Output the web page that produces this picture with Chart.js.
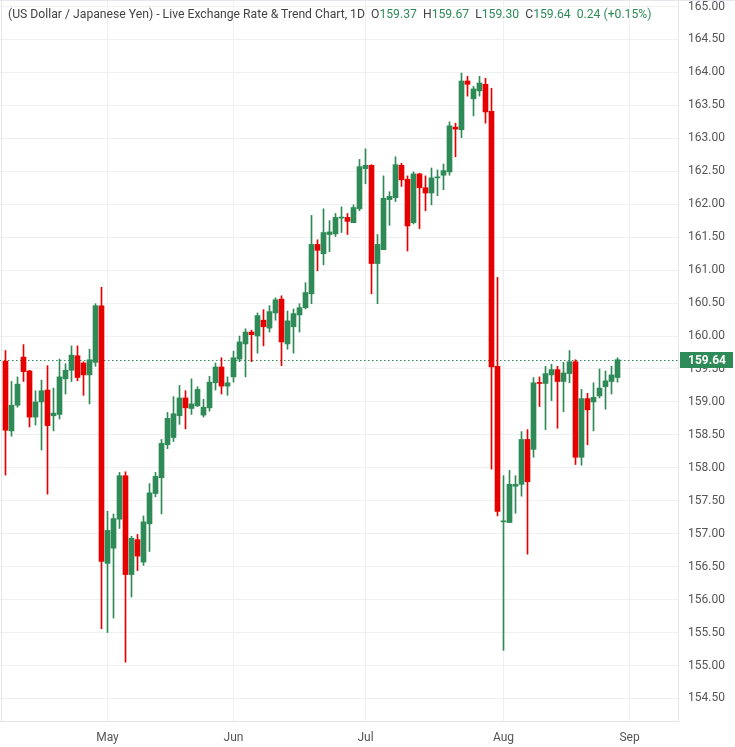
<!DOCTYPE html>
<html>
<head>
<meta charset="utf-8">
<script src="https://cdn.jsdelivr.net/npm/chart.js@4"></script>
<style>
html,body{margin:0;padding:0;background:#fff;}
#wrap{position:relative;width:735px;height:747px;}
#hdr{position:absolute;left:8px;top:7px;font-family:Roboto,"Open Sans",sans-serif;font-size:12.2px;color:#444;white-space:pre;}
#hdr .g{color:#2e8b57;}
</style>
</head>
<body>
<div id="wrap">
<canvas id="c" width="735" height="747"></canvas>
<div id="hdr">(US Dollar / Japanese Yen) - Live Exchange Rate &amp; Trend Chart, 1D  O<span class="g">159.37</span>  H<span class="g">159.67</span>  L<span class="g">159.30</span>  C<span class="g">159.64</span>  <span class="g">0.24 (+0.15%)</span></div>
</div>
<script>
const opens = [159.62,158.56,158.95,159.68,159.47,158.77,159.00,159.18,158.79,158.81,159.35,159.48,159.70,159.59,159.41,159.60,160.46,156.55,156.78,157.22,157.88,156.38,156.91,156.57,157.15,157.61,157.85,158.35,158.46,158.79,159.06,158.90,158.94,158.80,158.91,159.29,159.53,159.24,159.38,159.65,159.88,160.06,160.00,160.24,160.12,160.35,160.56,159.88,160.14,160.32,160.43,160.64,161.39,161.25,161.54,161.55,161.79,161.80,161.72,161.93,162.54,162.59,161.10,161.31,162.07,162.10,162.59,162.38,161.72,162.46,162.25,162.17,162.40,162.44,162.49,163.17,163.13,163.87,163.60,163.72,163.82,163.41,159.54,157.18,157.17,157.72,157.75,158.43,158.28,159.29,159.28,159.41,159.49,159.31,159.43,159.61,158.16,159.05,159.00,159.09,159.23,159.31,159.37];
const highs = [159.78,159.31,159.38,159.87,159.48,159.17,159.33,159.55,159.21,159.65,159.58,159.85,159.85,159.61,159.80,160.49,160.74,157.34,157.30,157.93,157.94,156.96,156.99,157.27,157.76,157.93,158.43,158.84,159.08,159.25,159.17,159.35,159.23,159.04,159.39,159.59,159.67,159.38,159.77,160.00,160.11,160.09,160.35,160.40,160.46,160.58,160.61,160.38,160.41,160.49,160.81,161.83,161.46,161.93,161.75,161.86,161.96,161.86,161.99,162.68,162.84,162.60,161.54,162.43,162.19,162.72,162.62,162.43,162.49,162.47,162.43,162.55,162.52,162.61,163.25,163.23,163.99,163.94,163.79,163.94,163.91,163.76,160.89,157.88,157.96,157.88,158.55,158.58,159.37,159.38,159.54,159.57,159.54,159.60,159.78,159.64,159.19,159.13,159.29,159.50,159.47,159.54,159.67];
const lows = [157.89,158.48,158.92,159.31,158.62,158.65,158.27,157.60,158.56,158.74,159.12,159.31,159.32,159.10,158.97,159.54,155.56,155.50,155.72,157.08,155.05,156.04,156.44,156.52,156.73,157.56,157.30,158.29,158.40,158.66,158.59,158.81,158.93,158.77,158.86,159.18,159.12,159.10,159.30,159.61,159.38,159.61,159.74,159.85,160.06,160.24,159.55,159.80,159.74,160.06,160.41,160.49,160.99,161.08,161.28,161.51,161.57,161.54,161.72,161.90,162.31,160.64,160.49,161.31,161.68,162.04,162.27,161.29,161.70,161.63,161.90,161.99,162.13,162.22,162.44,162.72,163.01,163.64,163.34,163.64,163.23,157.98,157.27,155.23,157.17,157.31,157.57,156.69,158.16,158.93,158.58,159.02,158.60,158.85,159.29,158.05,158.04,158.35,158.56,159.06,158.89,159.12,159.30];
const closes = [158.57,158.95,159.27,159.46,158.77,159.00,159.17,158.64,158.83,159.38,159.48,159.71,159.37,159.41,159.64,160.46,156.58,157.05,157.23,157.88,156.38,156.93,156.66,157.18,157.62,157.87,158.37,158.75,158.82,159.06,158.91,158.97,159.19,158.92,159.30,159.53,159.24,159.29,159.67,159.91,160.06,160.02,160.31,160.14,160.37,160.55,159.91,160.23,160.34,160.43,160.66,161.39,161.30,161.57,161.58,161.80,161.80,161.74,161.95,162.57,162.59,161.10,161.39,162.09,162.12,162.60,162.37,161.67,162.46,162.25,162.17,162.40,162.41,162.51,163.19,163.14,163.87,163.82,163.75,163.84,163.40,159.53,157.34,157.19,157.75,157.75,158.43,157.79,159.29,159.28,159.43,159.49,159.31,159.44,159.61,158.16,159.05,158.88,159.07,159.21,159.32,159.41,159.64];
const monthLabels = ["May","Jun","Jul","Aug","Sep"];
const monthIndex = [17,38,60,83,104];
const yTickValues = [154.5,155,155.5,156,156.5,157,157.5,158,158.5,159,159.5,160,160.5,161,161.5,162,162.5,163,163.5,164,164.5,165];
const lastPrice = 159.64;

const GREEN = '#2e8b57', RED = '#e60000';
const colors = opens.map((o,i)=> closes[i] >= o ? GREEN : RED);
const wickData = opens.map((o,i)=>({x:i, y:[lows[i], highs[i]]}));
const bodyData = opens.map((o,i)=>({x:i, y:[o, closes[i]]}));

const overlay = {
  id:'overlay',
  beforeDatasetsDraw(chart){
    const {ctx, chartArea, scales:{y}} = chart;
    const py = Math.round(y.getPixelForValue(lastPrice)) + 0.5;
    ctx.save();
    ctx.strokeStyle = GREEN; ctx.lineWidth = 1; ctx.setLineDash([1.5,2.5]);
    ctx.beginPath(); ctx.moveTo(chartArea.left, py); ctx.lineTo(chartArea.right, py); ctx.stroke();
    ctx.restore();
  },
  afterDraw(chart){
    const {ctx, chartArea, scales:{y}} = chart;
    const py = y.getPixelForValue(lastPrice);
    ctx.save();
    ctx.fillStyle = GREEN;
    ctx.fillRect(chartArea.right + 2, Math.round(py) - 8, 53, 16);
    ctx.fillStyle = '#fff';
    ctx.font = 'bold 12px Roboto, sans-serif';
    ctx.textBaseline = 'middle'; ctx.textAlign = 'left';
    ctx.fillText(lastPrice.toFixed(2), chartArea.right + 10, Math.round(py) + 0.5);
    ctx.strokeStyle = '#e6e6ec'; ctx.lineWidth = 1; ctx.setLineDash([]);
    ctx.beginPath(); ctx.moveTo(0, 0.5); ctx.lineTo(735, 0.5); ctx.moveTo(1.5, 0); ctx.lineTo(1.5, chartArea.bottom); ctx.stroke();
    ctx.restore();
  }
};

new Chart(document.getElementById('c'), {
  type:'bar',
  data:{
    datasets:[
      {data:wickData, backgroundColor:colors, barThickness:1, grouped:false, order:2},
      {data:bodyData, backgroundColor:colors, barThickness:5, grouped:false, minBarLength:1, order:1}
    ]
  },
  options:{
    responsive:false, animation:false, devicePixelRatio:1,
    layout:{padding:0},
    plugins:{legend:{display:false}, tooltip:{enabled:false}},
    scales:{
      x:{
        type:'linear', min:-0.9167, max:112.0833, offset:false,
        afterBuildTicks(s){ s.ticks = monthIndex.map(v=>({value:v})); },
        afterFit(s){ s.height = 26; s.paddingLeft = 0; s.paddingRight = 0; },
        grid:{color:'#f0f0f3', drawTicks:false, offset:false},
        border:{display:true, color:'#e2e2e8'},
        ticks:{autoSkip:false, maxRotation:0, padding:10, color:'#555', font:{family:'Roboto', size:12},
          callback(v){ const k = monthIndex.indexOf(v); return k>=0 ? monthLabels[k] : ''; }}
      },
      y:{
        position:'right', min:154.158, max:165.099,
        afterBuildTicks(s){ s.ticks = yTickValues.map(v=>({value:v})); },
        afterFit(s){ s.width = 57; s.paddingTop = 0; s.paddingBottom = 0; },
        grid:{color:'#f0f0f3', drawTicks:false},
        border:{display:true, color:'#e6e6ec'},
        ticks:{padding:10, color:'#555', font:{family:'Roboto', size:12},
          callback(v){ return Number(v).toFixed(2); }}
      }
    }
  },
  plugins:[overlay]
});
</script>
</body>
</html>
